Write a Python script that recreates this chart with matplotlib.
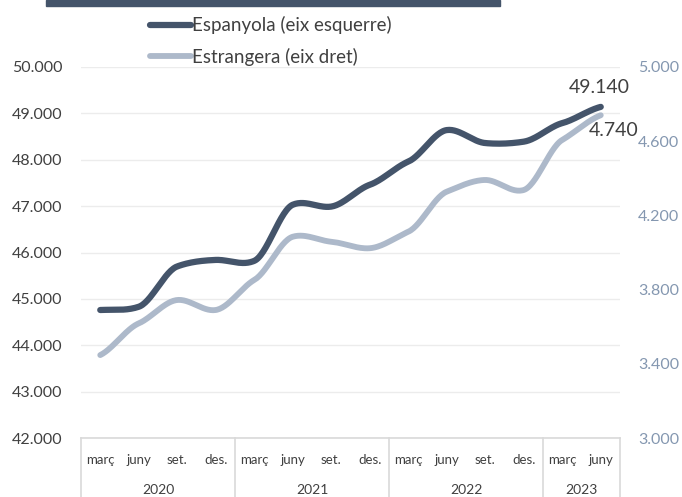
import numpy as np
import matplotlib
matplotlib.use("Agg")
import matplotlib.pyplot as plt
from matplotlib.lines import Line2D

plt.rcParams['font.family'] = ['Lato', 'DejaVu Sans']

quarters = ["març", "juny", "set.", "des.", "març", "juny", "set.", "des.",
            "març", "juny", "set.", "des.", "març", "juny"]
years = ["2020", "2021", "2022", "2023"]
year_counts = [4, 4, 4, 2]
espanyola = [44760, 44830, 45700, 45840, 45820, 47030, 46990, 47460,
             47960, 48640, 48360, 48390, 48790, 49140]
estrangera = [3447, 3618, 3744, 3690, 3852, 4085, 4058, 4023,
              4112, 4328, 4391, 4337, 4607, 4740]
left_ticks = [42000, 43000, 44000, 45000, 46000, 47000, 48000, 49000, 50000]
right_ticks = [3000, 3400, 3800, 4200, 4600, 5000]

DARK = "#44546a"
LIGHT = "#adb9ca"


def fmt(v):
    return f"{v:,.0f}".replace(",", ".")


def smooth(y, n=30):
    y = np.asarray(y, float)
    x = np.arange(len(y), dtype=float)
    p = np.concatenate([[2 * y[0] - y[1]], y, [2 * y[-1] - y[-2]]])
    xs, ys = [], []
    for i in range(len(y) - 1):
        p0, p1, p2, p3 = p[i], p[i + 1], p[i + 2], p[i + 3]
        t = np.linspace(0, 1, n, endpoint=False)
        m1 = (p2 - p0) / 2 * 0.6
        m2 = (p3 - p1) / 2 * 0.6
        h00 = 2 * t**3 - 3 * t**2 + 1
        h10 = t**3 - 2 * t**2 + t
        h01 = -2 * t**3 + 3 * t**2
        h11 = t**3 - t**2
        ys.append(h00 * p1 + h10 * m1 + h01 * p2 + h11 * m2)
        xs.append(x[i] + t)
    xs.append([x[-1]])
    ys.append([y[-1]])
    return np.concatenate(xs), np.concatenate(ys)


fig = plt.figure(figsize=(6.82, 4.97), dpi=100)
ax = fig.add_axes([81 / 682, 59 / 497, 539 / 682, 371 / 497])
ax2 = ax.twinx()

ax.set_xlim(-0.5, len(quarters) - 0.5)
ax.set_ylim(42000, 50000)
ax2.set_ylim(3000, 5000)

ax.set_yticks(left_ticks)
ax.set_yticklabels([fmt(v) for v in left_ticks])
ax2.set_yticks(right_ticks)
ax2.set_yticklabels([fmt(v) for v in right_ticks])
ax.tick_params(axis='y', length=0, pad=13.5, labelsize=11.5, labelcolor="#404040")
ax2.tick_params(axis='y', length=0, pad=13, labelsize=11.5, labelcolor="#8497b0")
ax.set_xticks([])
ax.grid(axis='y', color="#ececec", linewidth=1)
ax.set_axisbelow(True)
for a in (ax, ax2):
    for s in a.spines.values():
        s.set_visible(False)

xs, ys = smooth(espanyola)
ax.plot(xs, ys, color=DARK, linewidth=4.5, solid_capstyle='round', zorder=3)
xs2, ys2 = smooth(estrangera)
ax2.plot(xs2, ys2, color=LIGHT, linewidth=4.2, solid_capstyle='round', zorder=2)

ax.annotate(fmt(espanyola[-1]), (len(quarters) - 1, espanyola[-1]), xytext=(-1, 8),
            textcoords='offset points', ha='center', va='bottom', fontsize=14, color="#404040")
ax2.annotate(fmt(estrangera[-1]), (len(quarters) - 1, estrangera[-1]), xytext=(9, -5),
             textcoords='offset points', ha='center', va='top', fontsize=14, color="#404040")

# category axis table
tr = ax.get_xaxis_transform()
gc = "#d9d9d9"
ax.plot([-0.5, len(quarters) - 0.5], [0, 0], color=gc, lw=1.2, transform=tr, clip_on=False)
bounds = np.concatenate([[0], np.cumsum(year_counts)]) - 0.5
for b in bounds:
    ax.plot([b, b], [0, -0.2], color=gc, lw=1.2, transform=tr, clip_on=False)
for i, q in enumerate(quarters):
    ax.text(i, -0.06, q, transform=tr, ha='center', va='center', fontsize=9.5, color="#404040")
for j, yr in enumerate(years):
    c = (bounds[j] + bounds[j + 1]) / 2
    ax.text(c, -0.139, yr, transform=tr, ha='center', va='center', fontsize=10, color="#404040")

# top bar
fig.patches.append(plt.Rectangle((46 / 682, 1 - 6 / 497), 454 / 682, 6 / 497,
                                 transform=fig.transFigure, color=DARK, zorder=5))

handles = [Line2D([], [], color=DARK, lw=4.5, solid_capstyle='round'),
           Line2D([], [], color=LIGHT, lw=4.2, solid_capstyle='round')]
fig.legend(handles, ["Espanyola (eix esquerre)", "Estrangera (eix dret)"],
           loc='upper left', bbox_to_anchor=(150 / 682, 1 - 16 / 497), frameon=False,
           fontsize=13.5, handlelength=2.2, handletextpad=0.05, labelspacing=0.72,
           labelcolor="#404040", borderaxespad=0, borderpad=0)

fig.savefig("out.png", dpi=100)
